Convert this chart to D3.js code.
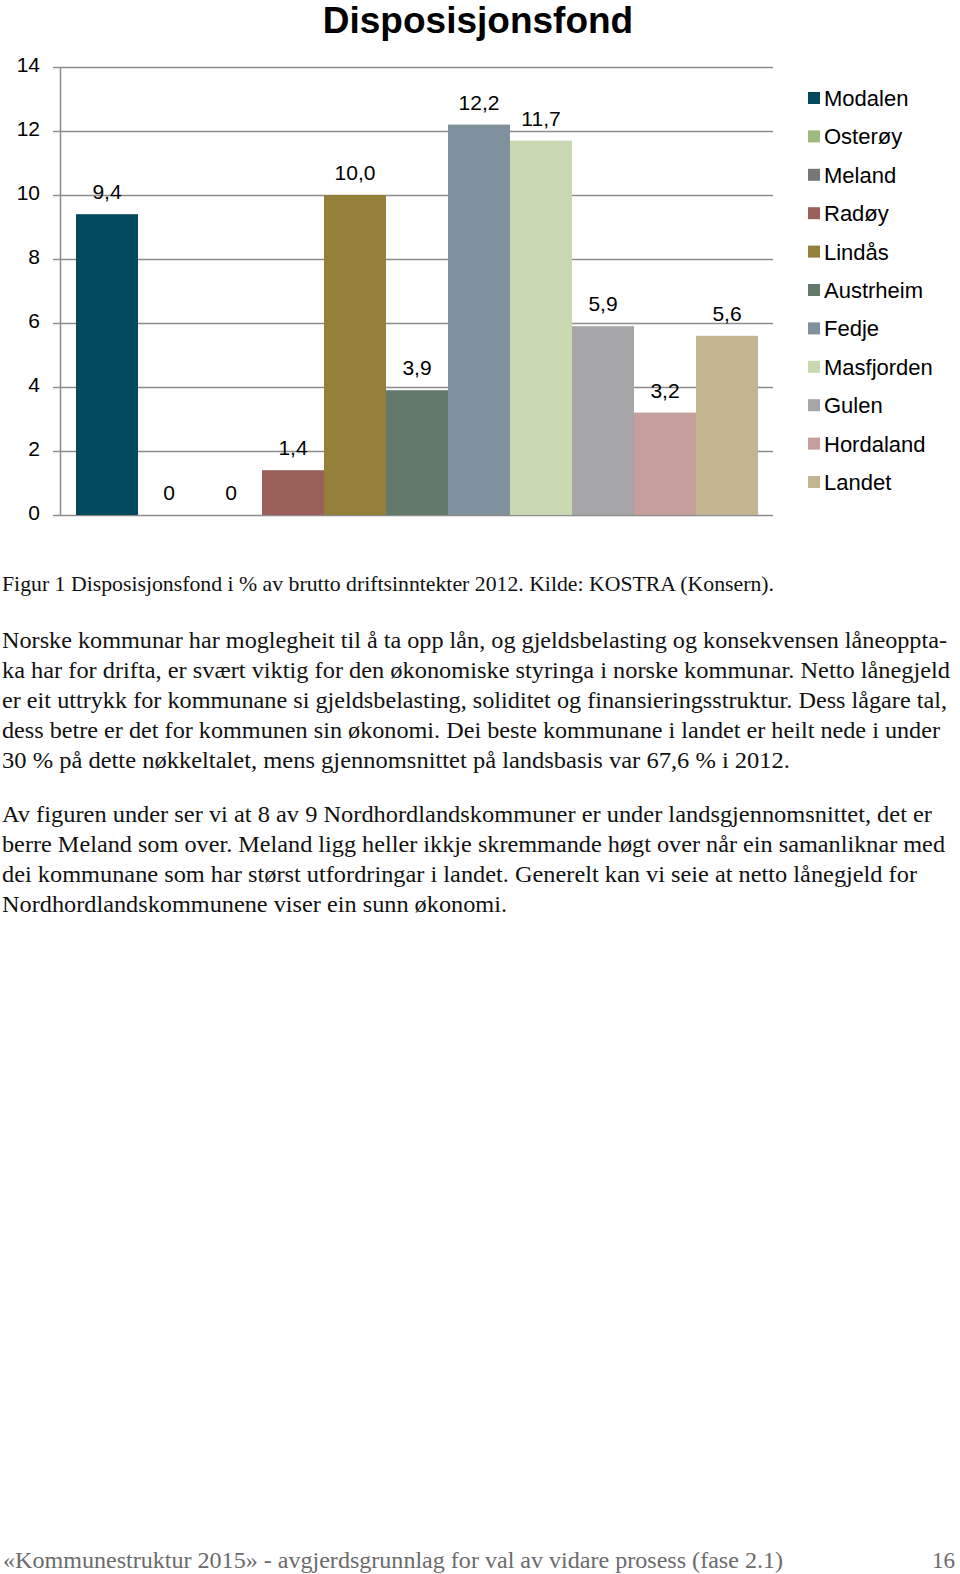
<!DOCTYPE html>
<html>
<head>
<meta charset="utf-8">
<script src="https://cdn.jsdelivr.net/npm/d3@7"></script>
<style>
  html, body { margin: 0; padding: 0; background: #fff; }
  svg { display: block; }
</style>
</head>
<body>
<script>
// ---- Data ----
const title = "Disposisjonsfond";
const series = ["Modalen","Osterøy","Meland","Radøy","Lindås","Austrheim","Fedje","Masfjorden","Gulen","Hordaland","Landet"];
const values = [9.4, 0, 0, 1.4, 10.0, 3.9, 12.2, 11.7, 5.9, 3.2, 5.6];
const colors = ["#03495e","#9fba7f","#777777","#9c605a","#94803a","#62796c","#7f919d","#c8d8b0","#a5a5a7","#c69e9c","#c3b58f"];
const yTicks = [0, 2, 4, 6, 8, 10, 12, 14];

const caption = "Figur 1 Disposisjonsfond i % av brutto driftsinntekter 2012. Kilde: KOSTRA (Konsern).";
const para1 = [
  "Norske kommunar har moglegheit til å ta opp lån, og gjeldsbelasting og konsekvensen låneoppta-",
  "ka har for drifta, er svært viktig for den økonomiske styringa i norske kommunar. Netto lånegjeld",
  "er eit uttrykk for kommunane si gjeldsbelasting, soliditet og finansieringsstruktur. Dess lågare tal,",
  "dess betre er det for kommunen sin økonomi. Dei beste kommunane i landet er heilt nede i under",
  "30 % på dette nøkkeltalet, mens gjennomsnittet på landsbasis var 67,6 % i 2012."
];
const para1Widths = [945, 948, 945, 938, 788];
const para2 = [
  "Av figuren under ser vi at 8 av 9 Nordhordlandskommuner er under landsgjennomsnittet, det er",
  "berre Meland som over. Meland ligg heller ikkje skremmande høgt over når ein samanliknar med",
  "dei kommunane som har størst utfordringar i landet. Generelt kan vi seie at netto lånegjeld for",
  "Nordhordlandskommunene viser ein sunn økonomi."
];
const para2Widths = [930, 943, 915, 505];
const footerText = "«Kommunestruktur 2015» - avgjerdsgrunnlag for val av vidare prosess (fase 2.1)";
const pageNo = "16";

// ---- Layout ----
const W = 960, H = 1574;
const svg = d3.select("body").append("svg").attr("width", W).attr("height", H);
svg.append("rect").attr("width", W).attr("height", H).attr("fill", "#fff");

const plotLeft = 60, plotRight = 773, plotTop = 67, plotBottom = 515;
const y = d3.scaleLinear().domain([0, 14]).range([plotBottom, plotTop]);
const x = d3.scaleBand().domain(series).range([76, 758]).padding(0);

const sans = "'Liberation Sans', Arial, Helvetica, sans-serif";
const serif = "'Liberation Serif', 'Times New Roman', serif";

// Title
svg.append("text").attr("x", 478).attr("y", 33).attr("text-anchor", "middle")
  .attr("font-family", sans).attr("font-weight", "bold").attr("font-size", 37)
  .attr("fill", "#000").text(title);

// Gridlines
const grid = svg.append("g").attr("transform", `translate(${plotLeft},0)`)
  .call(d3.axisLeft(y).tickValues(yTicks).tickSize(-(plotRight - plotLeft)).tickFormat(""));
grid.select(".domain").remove();
grid.selectAll("line").attr("stroke", "#8c8c8c").attr("stroke-width", 1.5);

// Axis
const axis = svg.append("g").attr("transform", `translate(${plotLeft},0)`)
  .call(d3.axisLeft(y).tickValues(yTicks).tickSize(7).tickSizeOuter(0).tickPadding(13).tickFormat(d3.format("d")));
axis.select(".domain").attr("stroke", "#8c8c8c").attr("stroke-width", 1.5);
axis.selectAll(".tick line").attr("stroke", "#8c8c8c").attr("stroke-width", 1.5);
axis.selectAll(".tick text").attr("font-family", sans).attr("font-size", 21).attr("fill", "#000")
  .attr("dy", "0.2em");

// Bars
svg.append("g").selectAll("rect").data(series).join("rect")
  .attr("x", d => x(d)).attr("width", x.bandwidth())
  .attr("y", (d, i) => y(values[i]))
  .attr("height", (d, i) => y(0) - y(values[i]))
  .attr("fill", (d, i) => colors[i]);

// Data labels
const fmt = v => v === 0 ? "0" : v.toFixed(1).replace(".", ",");
svg.append("g").selectAll("text").data(series).join("text")
  .attr("x", d => x(d) + x.bandwidth() / 2)
  .attr("y", (d, i) => y(values[i]) - 15)
  .attr("text-anchor", "middle")
  .attr("font-family", sans).attr("font-size", 21).attr("fill", "#000")
  .text((d, i) => fmt(values[i]));

// Legend
const legY = d3.scalePoint().domain(series).range([98, 482]);
const leg = svg.append("g");
leg.selectAll("rect").data(series).join("rect")
  .attr("x", 808).attr("y", d => legY(d) - 6).attr("width", 12).attr("height", 12)
  .attr("fill", (d, i) => colors[i]);
leg.selectAll("text").data(series).join("text")
  .attr("x", 824).attr("y", d => legY(d)).attr("dy", "0.36em")
  .attr("font-family", sans).attr("font-size", 22).attr("fill", "#000")
  .text(d => d);

// Caption
svg.append("text").attr("x", 2).attr("y", 591)
  .attr("font-family", serif).attr("font-size", 21).attr("fill", "#111")
  .attr("textLength", 772).attr("lengthAdjust", "spacingAndGlyphs")
  .text(caption);

// Paragraphs
function para(lines, widths, y0) {
  svg.append("g").selectAll("text").data(lines).join("text")
    .attr("x", 2).attr("y", (d, i) => y0 + i * 30)
    .attr("font-family", serif).attr("font-size", 24).attr("fill", "#111")
    .attr("textLength", (d, i) => widths[i]).attr("lengthAdjust", "spacingAndGlyphs")
    .text(d => d);
}
para(para1, para1Widths, 648);
para(para2, para2Widths, 822);

// Footer
svg.append("text").attr("x", 3).attr("y", 1568)
  .attr("font-family", serif).attr("font-size", 23).attr("fill", "#6b6b6b")
  .attr("textLength", 780).attr("lengthAdjust", "spacingAndGlyphs")
  .text(footerText);
svg.append("text").attr("x", 955).attr("y", 1568).attr("text-anchor", "end")
  .attr("font-family", serif).attr("font-size", 23).attr("fill", "#6b6b6b")
  .text(pageNo);
</script>
</body>
</html>
